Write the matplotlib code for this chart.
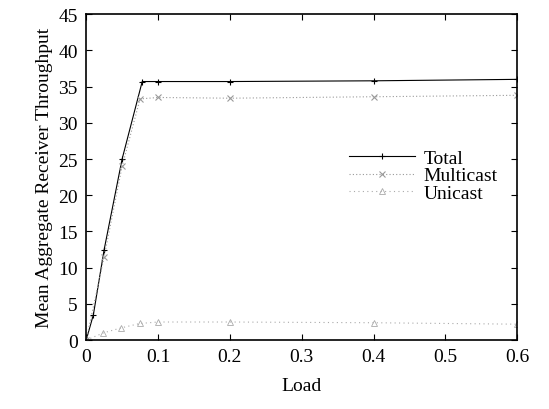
import numpy as np
import matplotlib
matplotlib.use("Agg")
import matplotlib.pyplot as plt

plt.rcParams['font.family'] = ['Liberation Serif', 'DejaVu Serif']

total_x = [0, 0.01, 0.025, 0.05, 0.078, 0.1, 0.2, 0.4, 0.6]
total_y = [0, 3.5, 12.5, 25.0, 35.7, 35.7, 35.7, 35.8, 36.0]

multi_x = [0, 0.025, 0.05, 0.075, 0.1, 0.2, 0.4, 0.6]
multi_y = [0, 11.5, 24.0, 33.3, 33.5, 33.4, 33.6, 33.8]

uni_x = [0, 0.024, 0.049, 0.075, 0.1, 0.2, 0.4, 0.6]
uni_y = [0, 1.0, 1.7, 2.3, 2.5, 2.5, 2.4, 2.2]

fig = plt.figure(figsize=(5.49, 4.10), dpi=100)
ax = fig.add_axes([0.157, 0.168, 0.785, 0.795])

ax.plot(total_x, total_y, color='black', lw=0.8, marker='+', ms=5, mew=0.8, label='Total')
ax.plot(multi_x, multi_y, color='#999999', lw=0.8, ls=(0, (1, 2)), marker='x', ms=4, mew=0.8, label='Multicast')
ax.plot(uni_x, uni_y, color='#aaaaaa', lw=0.8, ls=(0, (1, 3)), marker='^', ms=4, mfc='none', mew=0.6, label='Unicast')

ax.set_xlim(0, 0.6)
ax.set_ylim(0, 45)
ax.set_xticks([0, 0.1, 0.2, 0.3, 0.4, 0.5, 0.6])
ax.set_xticklabels(['0', '0.1', '0.2', '0.3', '0.4', '0.5', '0.6'])
ax.set_yticks(np.arange(0, 46, 5))
ax.tick_params(direction='in', top=True, right=True, labelsize=14, length=4, width=0.8, pad=6)
for s in ax.spines.values():
    s.set_linewidth(1.2)

ax.set_xlabel('Load', fontsize=14, labelpad=8)
ax.set_ylabel('Mean Aggregate Receiver Throughput', fontsize=14, labelpad=4)

ax.legend(loc='center left', bbox_to_anchor=(0.57, 0.505), frameon=False, fontsize=14,
          handlelength=3.4, handletextpad=0.4, labelspacing=0.0)

fig.savefig('out.png', dpi=100)
